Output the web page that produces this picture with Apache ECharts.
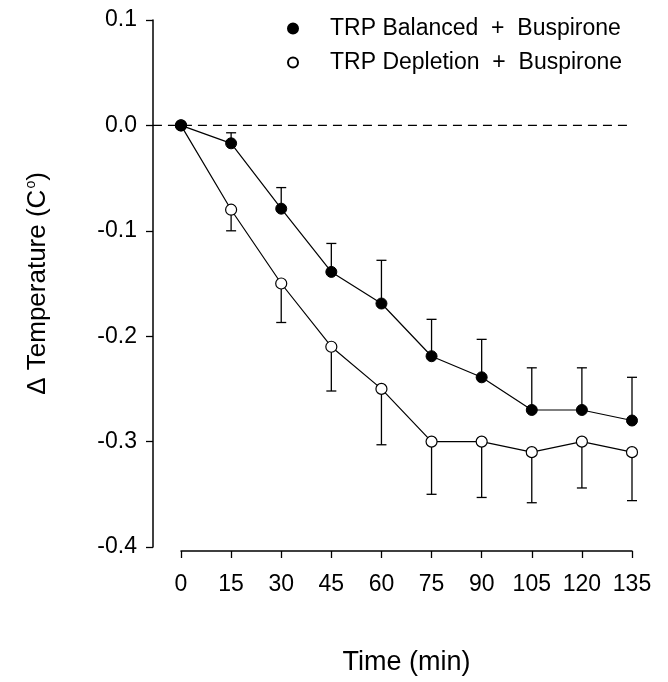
<!DOCTYPE html>
<html>
<head>
<meta charset="utf-8">
<script src="https://cdn.jsdelivr.net/npm/echarts@6/dist/echarts.min.js"></script>
<style>
html,body{margin:0;padding:0;background:#fff;}
#chart{width:668px;height:682px;}
</style>
</head>
<body>
<div id="chart"></div>
<script>
const times = [0, 15, 30, 45, 60, 75, 90, 105, 120, 135];
const balancedMean = [0, -0.017, -0.079, -0.139, -0.169, -0.219, -0.239, -0.27, -0.27, -0.28];
const balancedErr  = [0, 0.010, 0.020, 0.027, 0.041, 0.035, 0.036, 0.040, 0.040, 0.041];
const depletionMean = [0, -0.08, -0.15, -0.21, -0.25, -0.30, -0.30, -0.31, -0.30, -0.31];
const depletionErr  = [0, 0.020, 0.037, 0.042, 0.053, 0.050, 0.053, 0.048, 0.044, 0.046];
const zeroLineX = [-8.4, 135];
const zeroLineY = [0, 0];
const seriesNames = ['TRP Balanced  +  Buspirone', 'TRP Depletion  +  Buspirone'];
const xTitle = 'Time (min)';
const yTitle = 'Δ Temperature (C{sup|o})';

const FONT = 'Liberation Sans, Arial, Helvetica, sans-serif';

function pts(m) { return times.map((t, i) => [t, m[i]]); }
function errPts(m, e, dir) { return times.map((t, i) => [t, m[i], m[i] + dir * e[i]]); }

function errRender(params, api) {
  const x = api.value(0), y0 = api.value(1), y1 = api.value(2);
  if (y0 === y1) return null;
  const p0 = api.coord([x, y0]);
  const p1 = api.coord([x, y1]);
  const cap = 5;
  return {
    type: 'group',
    children: [
      { type: 'line', shape: { x1: p0[0], y1: p0[1], x2: p1[0], y2: p1[1] }, style: { stroke: '#000', lineWidth: 1.3 } },
      { type: 'line', shape: { x1: p1[0] - cap, y1: p1[1], x2: p1[0] + cap, y2: p1[1] }, style: { stroke: '#000', lineWidth: 1.3 } }
    ]
  };
}

function zeroRender(params, api) {
  if (params.dataIndex !== 0) return null;
  const a = api.coord([zeroLineX[0], zeroLineY[0]]);
  const b = api.coord([zeroLineX[1], zeroLineY[1]]);
  return {
    type: 'line',
    shape: { x1: a[0], y1: a[1], x2: b[0], y2: b[1] },
    style: { stroke: '#000', lineWidth: 1.4, lineDash: [9, 6] }
  };
}

const chart = echarts.init(document.getElementById('chart'), null, { renderer: 'canvas' });
chart.setOption({
  animation: false,
  backgroundColor: '#fff',
  textStyle: { fontFamily: FONT, color: '#000' },
  grid: { left: 181, right: 36, top: 20, bottom: 135, containLabel: false },
  legend: {
    orient: 'vertical',
    left: 282,
    top: 11,
    itemWidth: 10,
    itemHeight: 10,
    itemGap: 9,
    icon: 'circle',
    data: seriesNames,
    textStyle: { fontFamily: FONT, fontSize: 23, color: '#000', lineHeight: 25, padding: [0, 0, 0, 27] }
  },
  xAxis: {
    type: 'value',
    min: 0, max: 135, interval: 15,
    offset: 4,
    name: xTitle,
    nameLocation: 'middle',
    nameGap: 98,
    nameTextStyle: { fontFamily: FONT, fontSize: 27, color: '#000' },
    axisLine: { show: true, onZero: false, lineStyle: { color: '#000', width: 1.5 } },
    axisTick: { show: true, length: 7, inside: false, lineStyle: { color: '#000', width: 1.3 } },
    axisLabel: { fontFamily: FONT, fontSize: 23, color: '#000', margin: 22, showMinLabel: true, showMaxLabel: true },
    splitLine: { show: false }
  },
  yAxis: {
    type: 'value',
    min: -0.4, max: 0.1, interval: 0.1,
    offset: 28,
    name: yTitle,
    nameLocation: 'middle',
    nameGap: 101,
    nameRotate: 90,
    nameTextStyle: { fontFamily: FONT, fontSize: 26, color: '#000', rich: { sup: { fontSize: 14, fontFamily: FONT, padding: [0, 0, 14, 1] } } },
    axisLine: { show: true, onZero: false, lineStyle: { color: '#000', width: 1.5 } },
    axisTick: { show: true, length: 7, lineStyle: { color: '#000', width: 1.3 } },
    axisLabel: { fontFamily: FONT, fontSize: 23, color: '#000', margin: 16, formatter: v => v.toFixed(1) },
    splitLine: { show: false }
  },
  series: [
    {
      type: 'custom',
      name: 'zero',
      renderItem: zeroRender,
      data: zeroLineX.map((x, i) => [x, zeroLineY[i]]),
      encode: { x: 0, y: 1 },
      clip: false,
      silent: true,
      z: 0
    },
    {
      type: 'custom',
      name: 'balErr',
      renderItem: errRender,
      data: errPts(balancedMean, balancedErr, 1),
      encode: { x: 0, y: [1, 2] },
      z: 1, silent: true, clip: false
    },
    {
      type: 'custom',
      name: 'depErr',
      renderItem: errRender,
      data: errPts(depletionMean, depletionErr, -1),
      encode: { x: 0, y: [1, 2] },
      z: 1, silent: true, clip: false
    },
    {
      type: 'line',
      name: seriesNames[1],
      data: pts(depletionMean),
      symbol: 'circle',
      symbolSize: 11,
      showAllSymbol: true,
      clip: false,
      lineStyle: { color: '#000', width: 1.2 },
      itemStyle: { color: '#fff', borderColor: '#000', borderWidth: 1.2 },
      z: 3
    },
    {
      type: 'line',
      name: seriesNames[0],
      data: pts(balancedMean),
      symbol: 'circle',
      symbolSize: 11,
      showAllSymbol: true,
      clip: false,
      lineStyle: { color: '#000', width: 1.2 },
      itemStyle: { color: '#000', borderColor: '#000', borderWidth: 1 },
      z: 3
    }
  ]
});
</script>
</body>
</html>
